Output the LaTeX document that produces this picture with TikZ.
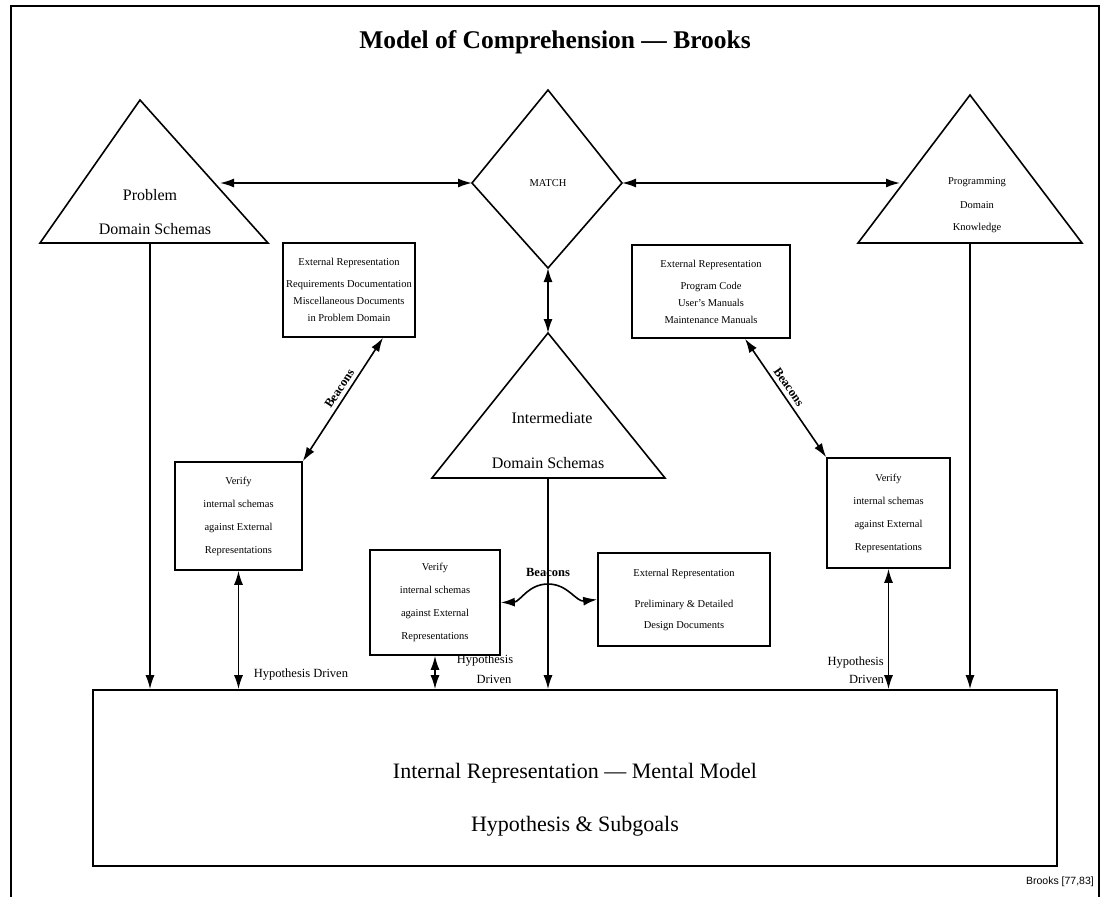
\documentclass[tikz,border=0pt]{standalone}
\usepackage{fontspec}
\setmainfont{Liberation Serif}
\newfontfamily\notefont{Liberation Sans}
\usetikzlibrary{arrows.meta,calc}
\begin{document}
\begin{tikzpicture}[x=1pt,y=-1pt,
  >={Latex[length=14pt,width=9pt]},
  frame/.style={line width=1.4pt},
  shapeline/.style={line width=1.6pt, line join=miter},
  conn/.style={line width=1.6pt},
  box/.style={draw, line width=1.6pt, inner sep=1pt, align=center,
              font=\fontsize{10.5}{17}\selectfont},
  verifybox/.style={box, font=\fontsize{10.5}{23}\selectfont},
  big/.style={font=\fontsize{16}{18}\selectfont, inner sep=0pt},
  tiny/.style={font=\fontsize{10.5}{12}\selectfont, inner sep=0pt},
  hyp/.style={font=\fontsize{12.5}{20}\selectfont, inner sep=0pt, align=center},
  beacon/.style={font=\bfseries\fontsize{12.5}{13}\selectfont, inner sep=1pt}
]
\useasboundingbox (0,0) rectangle (1111,897);
\fill[white] (0,0) rectangle (1111,897);

% slide frame
\draw[frame] (11,897) -- (11,6) -- (1099,6) -- (1099,897);

% title
\node[font=\bfseries\fontsize{25.5}{28}\selectfont] (title) at (555,42)
  {Model of Comprehension --- Brooks};

% problem domain schemas (triangle)
\coordinate (pdsTop) at (140,100);
\coordinate (pdsL) at (40,243);
\coordinate (pdsR) at (268,243);
\draw[shapeline] (pdsTop) -- (pdsR) -- (pdsL) -- cycle;
\node[big] (pds1) at (150,195) {Problem};
\node[big] (pds2) at (155,229) {Domain Schemas};
\coordinate (pdsEdge) at (220,183);
\coordinate (pdsFoot) at (150,243);

% programming domain knowledge (triangle)
\coordinate (pgkTop) at (970,95);
\coordinate (pgkL) at (858,243);
\coordinate (pgkR) at (1082,243);
\draw[shapeline] (pgkTop) -- (pgkR) -- (pgkL) -- cycle;
\node[tiny] (pgk1) at (977,182) {Programming};
\node[tiny] (pgk2) at (977,205) {Domain};
\node[tiny] (pgk3) at (977,228) {Knowledge};
\coordinate (pgkEdge) at (900,183);
\coordinate (pgkFoot) at (970,243);

% match (diamond)
\coordinate (mT) at (548,90);
\coordinate (mR) at (622,183);
\coordinate (mB) at (548,268);
\coordinate (mL) at (472,183);
\draw[shapeline] (mT) -- (mR) -- (mB) -- (mL) -- cycle;
\node[tiny] (match) at (548,183) {MATCH};

% intermediate domain schemas (triangle)
\coordinate (idsTop) at (548,333);
\coordinate (idsL) at (432,478);
\coordinate (idsR) at (665,478);
\draw[shapeline] (idsTop) -- (idsR) -- (idsL) -- cycle;
\node[big] (ids1) at (552,418) {Intermediate};
\node[big] (ids2) at (548,463) {Domain Schemas};
\coordinate (idsFoot) at (548,478);

% external representations
\node[box, minimum width=132pt, minimum height=94pt] (extL) at (349,290)
  {External Representation\\[5pt]Requirements Documentation\\Miscellaneous Documents\\in Problem Domain};
\node[box, minimum width=158pt, minimum height=93pt] (extR) at (711,291.5)
  {External Representation\\[5pt]Program Code\\User's Manuals\\Maintenance Manuals};
\node[box, minimum width=172pt, minimum height=93pt, font=\fontsize{10.5}{21}\selectfont] (extM) at (684,599.5)
  {External Representation\\[10pt]Preliminary \& Detailed\\Design Documents};

% verification boxes
\node[verifybox, minimum width=127pt, minimum height=108pt] (verL) at (238.5,516)
  {Verify\\internal schemas\\against External\\Representations};
\node[verifybox, minimum width=130pt, minimum height=105pt] (verM) at (435,602.5)
  {Verify\\internal schemas\\against External\\Representations};
\node[verifybox, minimum width=123pt, minimum height=110pt] (verR) at (888.5,513)
  {Verify\\internal schemas\\against External\\Representations};

% internal representation
\node[draw, line width=1.6pt, minimum width=964pt, minimum height=176pt] (main) at (575,778) {};
\node[font=\fontsize{22}{24}\selectfont, inner sep=0pt] (main1) at (575,773)
  {Internal Representation --- Mental Model};
\node[font=\fontsize{22}{24}\selectfont, inner sep=0pt] (main2) at (575,826)
  {Hypothesis \& Subgoals};

% connectors between the schemas and the match
\draw[conn,<->] (pdsEdge) -- (mL);
\draw[conn,<->] (mR) -- (pgkEdge);
\draw[conn,<->] (mB) -- (idsTop);

% schemas feeding the mental model
\draw[conn,->] (pdsFoot) -- (pdsFoot |- main.north);
\draw[conn,->] (pgkFoot) -- (pgkFoot |- main.north);
\draw[conn,->] (idsFoot) -- (idsFoot |- main.north);

% beacons
\draw[conn,<->] (verL.north east) -- node[beacon, sloped, above=3pt, pos=0.55] {Beacons} ([xshift=34pt]extL.south);
\draw[conn,<->] ([xshift=34pt]extR.south) -- node[beacon, sloped, above=3pt, pos=0.45] {Beacons} (verR.north west);
\draw[conn,<->] (verM.east) .. controls (520,602) and (528,584) .. (548,584)
                .. controls (568,584) and (576,602) .. (extM.west);
\node[beacon] (beaconM) at (548,572) {Beacons};

% hypothesis driven links
\draw[conn,<->] (verL.south) -- (verL.south |- main.north);
\draw[conn,<->] (verM.south) -- (verM.south |- main.north);
\draw[conn,<->] (verR.south) -- (verR.south |- main.north);
\node[hyp] (hypL) at (301,675) {Hypothesis Driven};
\node[hyp] (hypM) at (485,669) {Hypothesis\\\hspace*{18pt}Driven};
\node[hyp, align=right, anchor=east, font=\fontsize{12.5}{18}\selectfont] (hypR) at (884,670) {Hypothesis\\Driven};

% source note
\node[font=\notefont\fontsize{10.5}{12}\selectfont, anchor=east, inner sep=0pt] (src) at (1094,882) {Brooks [77,83]};
\end{tikzpicture}
\end{document}
